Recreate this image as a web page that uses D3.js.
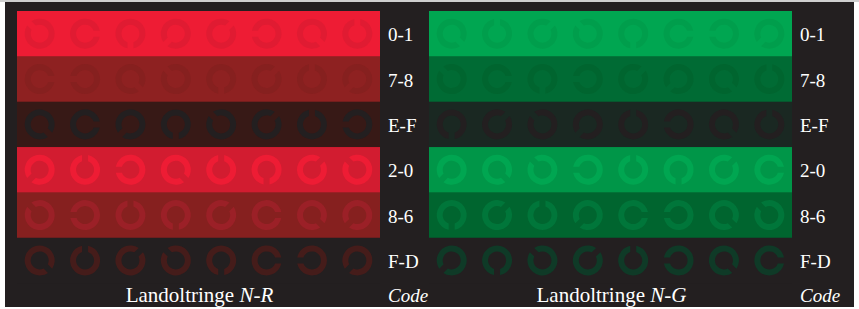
<!DOCTYPE html>
<html>
<head>
<meta charset="utf-8">
<script src="https://cdn.jsdelivr.net/npm/d3@7"></script>
<style>
  html, body { margin: 0; padding: 0; background: #fff; }
  svg { display: block; }
  text { font-family: 'Liberation Serif', 'Times New Roman', Times, serif; }
</style>
</head>
<body>
<div id="viz"></div>
<script>
// row codes: background level - ring level (hex steps, 0 = full colour, F = black)
const codes = ["0-1", "7-8", "E-F", "2-0", "8-6", "F-D"];

// colour for each level used, per hue
const redLevels = {"0": "#ee1c34", "1": "#e01b32", "2": "#d21c30", "6": "#9b2027",
                   "7": "#8e2121", "8": "#86201f", "D": "#451c1a", "E": "#371916", "F": "#231f20"};
const greenLevels = {"0": "#00a651", "1": "#009e4c", "2": "#009648", "6": "#00763a",
                     "7": "#006b34", "8": "#00652f", "D": "#0f3a27", "E": "#1a2822", "F": "#231f20"};

// gap directions of the rings, one list per row
const redGaps = [
    ["UL", "R", "D", "DL", "UR", "L", "DR", "U"],
    ["R", "L", "DR", "UL", "D", "UR", "U", "DL"],
    ["DR", "R", "DL", "D", "UL", "UR", "U", "L"],
    ["DL", "U", "L", "DR", "U", "D", "UR", "UL"],
    ["UL", "L", "U", "D", "UR", "R", "DR", "DL"],
    ["DR", "U", "UR", "UL", "D", "R", "L", "DL"]
];
const greenGaps = [
    ["DR", "U", "UR", "UL", "D", "R", "L", "DL"],
    ["UL", "R", "D", "L", "UR", "DL", "DR", "U"],
    ["D", "UR", "UL", "DL", "U", "L", "DR", "U"],
    ["DL", "DR", "UL", "L", "U", "D", "UR", "R"],
    ["D", "UR", "U", "DL", "R", "L", "DR", "UL"],
    ["DL", "D", "UL", "UR", "U", "L", "DR", "R"]
];

const panels = [
    {title: "Landoltringe ", sub: "N-R", levels: redLevels, gaps: redGaps, x0: 17},
    {title: "Landoltringe ", sub: "N-G", levels: greenLevels, gaps: greenGaps, x0: 429}
];

const width = 859;
const height = 309;
const panelW = 363;
const topY = 11;
const rowH = 45.35;
const fontSize = 19;
const titleSize = 21;

const angleOf = {R: 0, DR: 45, D: 90, DL: 135, L: 180, UL: -135, U: -90, UR: -45};

// Landolt C with gap pointing to +x: outer r 15, stroke 6, gap 6
function landolt(ro, ri, g) {
    const ao = Math.asin(g / 2 / ro);
    const ai = Math.asin(g / 2 / ri);
    const p = d3.path();
    p.moveTo(ro * Math.cos(ao), ro * Math.sin(ao));
    p.arc(0, 0, ro, ao, 2 * Math.PI - ao);
    p.lineTo(ri * Math.cos(ai), -ri * Math.sin(ai));
    p.arc(0, 0, ri, 2 * Math.PI - ai, ai, true);
    p.closePath();
    return p.toString();
}
const ringPath = landolt(15, 9, 6);

const svg = d3.select("#viz").append("svg")
    .attr("width", width)
    .attr("height", height);

svg.append("rect")
    .attr("x", 0).attr("y", 0).attr("width", width).attr("height", 2)
    .attr("fill", "#cfcfcf");
svg.append("rect")
    .attr("x", 5).attr("y", 2).attr("width", 849).attr("height", 305)
    .attr("fill", "#231f20");

const y = d3.scaleBand()
    .domain(codes)
    .range([topY, topY + rowH * codes.length]);

panels.forEach(panel => {
    const x = d3.scaleBand()
        .domain(d3.range(8))
        .range([panel.x0, panel.x0 + panelW]);

    const g = svg.append("g");

    const rows = g.selectAll("g.row")
        .data(codes)
        .enter()
        .append("g")
        .attr("class", "row");

    rows.append("rect")
        .attr("x", panel.x0)
        .attr("y", d => y(d))
        .attr("width", panelW)
        .attr("height", y.bandwidth() + 0.5)
        .attr("fill", d => panel.levels[d.split("-")[0]]);

    rows.selectAll("path")
        .data((d, i) => panel.gaps[i].map((dir, j) => ({code: d, dir: dir, col: j})))
        .enter()
        .append("path")
        .attr("d", ringPath)
        .attr("transform", d => `translate(${x(d.col) + x.bandwidth() / 2},${y(d.code) + y.bandwidth() / 2}) rotate(${angleOf[d.dir]})`)
        .attr("fill", d => panel.levels[d.code.split("-")[1]]);

    rows.append("text")
        .attr("x", panel.x0 + panelW + 8)
        .attr("y", d => y(d) + y.bandwidth() / 2 + 7.5)
        .attr("font-size", fontSize)
        .attr("fill", "#ffffff")
        .text(d => d);

    const title = g.append("text")
        .attr("x", panel.x0 + panelW / 2 + 1)
        .attr("y", 302)
        .attr("text-anchor", "middle")
        .attr("font-size", titleSize)
        .attr("fill", "#ffffff");
    title.append("tspan").text(panel.title);
    title.append("tspan").attr("font-style", "italic").text(panel.sub);

    g.append("text")
        .attr("x", panel.x0 + panelW + 8)
        .attr("y", 302)
        .attr("font-size", fontSize)
        .attr("font-style", "italic")
        .attr("fill", "#ffffff")
        .text("Code");
});
</script>
</body>
</html>
